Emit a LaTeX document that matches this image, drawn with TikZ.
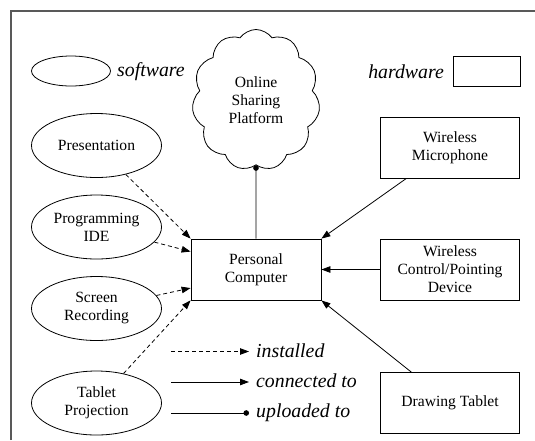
\documentclass[tikz,border=0pt]{standalone}
\usepackage{fontspec}
\setmainfont{Liberation Serif}
\newfontfamily\diagserif{Liberation Serif}
\usetikzlibrary{shapes.geometric,shapes.symbols,arrows.meta,calc}

\tikzset{
  base/.style={draw=black, line width=0.8pt, align=center, inner sep=0pt,
    font=\diagserif\fontsize{15.6}{18}\selectfont},
  sw/.style={base, ellipse, minimum width=130pt, minimum height=64pt},
  hw/.style={base, rectangle, minimum width=139.5pt, minimum height=61pt},
  legtext/.style={font=\diagserif\fontsize{19.8}{22}\selectfont\itshape, inner sep=0pt},
  link/.style={line width=0.8pt},
  installed/.style={link, dash pattern=on 4pt off 3pt, -{Triangle[length=9pt,width=6.5pt]}},
  connected/.style={link, -{Triangle[length=9pt,width=6.5pt]}},
  uploaded/.style={link, -{Circle[length=5.5pt]}},
}

\begin{document}
\begin{tikzpicture}[x=1pt,y=-1pt]
\useasboundingbox (0,0) rectangle (535,440);
% frame
\draw[line width=1.2pt, draw=black!65] (11,440) -- (11,11) -- (535,11);

% legend: shape keys
\node[base, ellipse, minimum width=79pt, minimum height=30pt] (swkey) at (71,71) {};
\node[legtext, anchor=west] (swlab) at (117,72) {software};
\node[base, rectangle, minimum width=67pt, minimum height=30pt] (hwkey) at (486.5,71) {};
\node[legtext, anchor=east] (hwlab) at (444,72) {hardware};

% cloud
\node[base, cloud, cloud puffs=11, cloud puff arc=110, aspect=0.92,
      minimum width=128pt, minimum height=141pt] (cloud) at (256,100)
      {Online\\Sharing\\Platform};

% software
\node[sw] (pres) at (96.5,145.5) {Presentation};
\node[sw] (ide)  at (96.5,227)   {Programming\\IDE};
\node[sw] (rec)  at (96.5,308.5) {Screen\\Recording};
\node[sw] (proj) at (96.5,403)   {Tablet\\Projection};

% computer
\node[base, rectangle, minimum width=130pt, minimum height=61pt] (pc) at (256,269.5) {Personal\\Computer};

% hardware
\node[hw] (mic) at (450,147.5) {Wireless\\Microphone};
\node[hw] (dev) at (450,269.5) {Wireless\\Control/Pointing\\Device};
\node[hw] (tab) at (450,403)   {Drawing Tablet};

% connectors
\draw[installed] (pres) -- (pc.north west);
\draw[installed] (ide)  -- ($(pc.north west)!0.21!(pc.south west)$);
\draw[installed] (rec)  -- ($(pc.north west)!0.80!(pc.south west)$);
\draw[installed] (proj) -- (pc.south west);
\draw[connected] (mic) -- (pc.north east);
\draw[connected] (dev) -- (pc.east);
\draw[connected] (tab) -- (pc.south east);
\draw[uploaded]  (pc) -- (cloud);

% legend: connector keys
\coordinate (l1a) at (171,351.5); \coordinate (l1b) at (249,351.5);
\coordinate (l2a) at (171,382);   \coordinate (l2b) at (249,382);
\coordinate (l3a) at (171,413);   \coordinate (l3b) at (249,413);
\draw[installed] (l1a) -- (l1b);
\draw[connected] (l2a) -- (l2b);
\draw[uploaded]  (l3a) -- (l3b);
\node[legtext, anchor=base west] (t1) at (256,357) {installed};
\node[legtext, anchor=base west] (t2) at (256,387.5) {connected to};
\node[legtext, anchor=base west] (t3) at (256,417) {uploaded to};
\end{tikzpicture}
\end{document}
